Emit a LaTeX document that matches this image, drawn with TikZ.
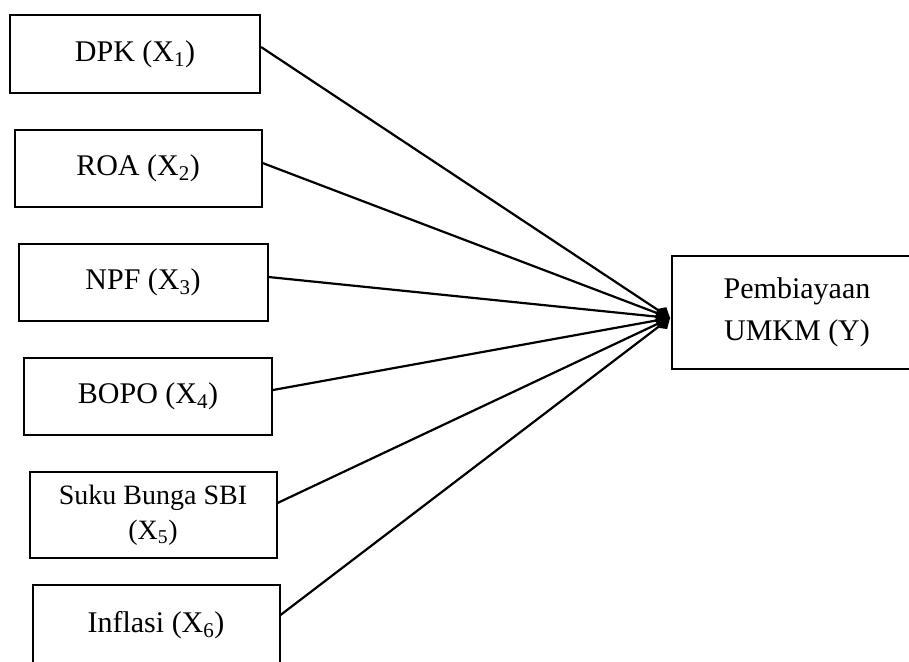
\documentclass[tikz,border=0pt]{standalone}
\usepackage{fontspec}
\setmainfont{Liberation Serif}
\usetikzlibrary{arrows.meta}
\begin{document}
\begin{tikzpicture}[x=1pt,y=-1pt,
  varbox/.style={draw, line width=2pt, rectangle, inner sep=0pt, align=center,
    font=\fontsize{30}{42}\selectfont},
  link/.style={line width=2.2pt, -{Kite[length=16pt,width=14pt,inset=7pt]}}]
\useasboundingbox (0,0) rectangle (909,661);
\node[varbox, minimum width=250pt, minimum height=78pt] (b1) at (135,54) {\raisebox{5pt}{DPK (X\textsubscript{1})}};
\node[varbox, minimum width=247pt, minimum height=77pt] (b2) at (138,168) {\raisebox{4pt}{ROA (X\textsubscript{2})}};
\node[varbox, minimum width=249pt, minimum height=77pt] (b3) at (143,282) {\raisebox{4pt}{NPF (X\textsubscript{3})}};
\node[varbox, minimum width=248pt, minimum height=77pt] (b4) at (148,396) {\raisebox{5pt}{BOPO (X\textsubscript{4})}};
\node[varbox, minimum width=247pt, minimum height=86pt, font=\fontsize{28}{35}\selectfont] (b5) at (153,515) {Suku Bunga SBI\\(X\textsubscript{5})};
\node[varbox, minimum width=247pt, minimum height=84pt] (b6) at (156,627) {\raisebox{10pt}{Inflasi (X\textsubscript{6})}};
\node[varbox, minimum width=250pt, minimum height=113pt] (Y) at (797,312) {Pembiayaan\\UMKM (Y)};
\coordinate (tip) at (670,318);
\draw[link] ([yshift=7pt]b1.east) -- (tip);
\draw[link] ([yshift=5pt]b2.east) -- (tip);
\draw[link] ([yshift=5pt]b3.east) -- (tip);
\draw[link] ([yshift=6pt]b4.east) -- (tip);
\draw[link] ([yshift=12pt]b5.east) -- (tip);
\draw[link] ([yshift=12pt]b6.east) -- (tip);
\end{tikzpicture}
\end{document}
